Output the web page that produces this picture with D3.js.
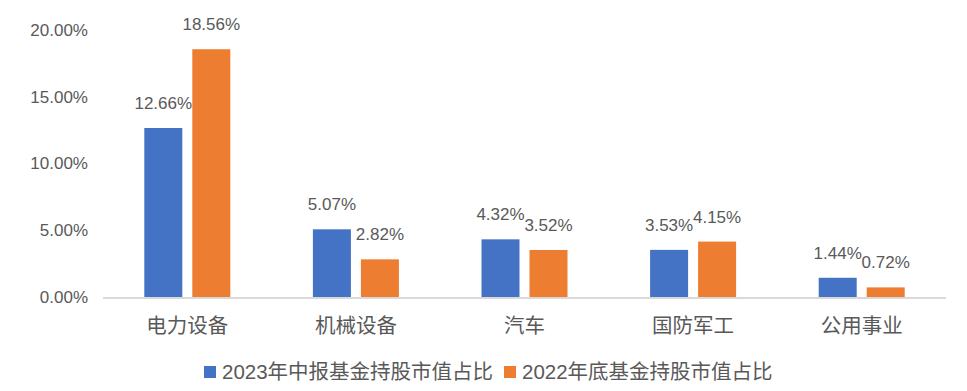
<!DOCTYPE html>
<html lang="zh">
<head>
<meta charset="UTF-8">
<title>基金持股市值占比</title>
<script src="https://d3js.org/d3.v7.min.js"></script>
<style>
  body { margin: 0; background: #fff; }
  text { font-family: "Liberation Sans", "Noto Sans CJK SC", sans-serif; fill: #595959; }
</style>
</head>
<body>
<svg id="chart" width="967" height="391"></svg>
<script>
// data
var categories = ["电力设备", "机械设备", "汽车", "国防军工", "公用事业"];
var seriesNames = ["2023年中报基金持股市值占比", "2022年底基金持股市值占比"];
var mid2023 = [12.66, 5.07, 4.32, 3.53, 1.44];
var end2022 = [18.56, 2.82, 3.52, 4.15, 0.72];
var yTicks = [0, 5, 10, 15, 20];
var colors = ["#4472C4", "#ED7D31"];

var svg = d3.select("#chart");
var plotLeft = 103, plotRight = 946, plotTop = 30, base = 297;

var x = d3.scaleBand().domain(categories).range([plotLeft, plotRight]);
var y = d3.scaleLinear().domain([0, 20]).range([base, plotTop]);
var barW = 38, gap = 10;

// y axis labels
svg.append("g").selectAll("text")
  .data(yTicks).enter().append("text")
    .attr("x", 88)
    .attr("y", function(d) { return y(d); })
    .attr("dy", "0.35em")
    .attr("text-anchor", "end")
    .style("font-size", "17px")
    .text(function(d) { return d.toFixed(2) + "%"; });

// bars
var series = [mid2023, end2022];
series.forEach(function(vals, si) {
  var offset = si === 0 ? -(gap / 2 + barW) : gap / 2;
  var g = svg.append("g");
  g.selectAll("rect")
    .data(vals).enter().append("rect")
      .attr("x", function(d, i) { return x(categories[i]) + x.bandwidth() / 2 + offset; })
      .attr("y", function(d) { return y(d); })
      .attr("width", barW)
      .attr("height", function(d) { return base - y(d); })
      .attr("fill", colors[si]);
  g.selectAll("text")
    .data(vals).enter().append("text")
      .attr("x", function(d, i) { return x(categories[i]) + x.bandwidth() / 2 + offset + barW / 2; })
      .attr("y", function(d) { return y(d) - 19; })
      .attr("text-anchor", "middle")
      .style("font-size", "17px")
      .text(function(d) { return d.toFixed(2) + "%"; });
});

// baseline
svg.append("line")
  .attr("x1", plotLeft).attr("x2", plotRight)
  .attr("y1", base + 1).attr("y2", base + 1)
  .attr("stroke", "#d9d9d9").attr("stroke-width", 2);

// category labels
svg.append("g").selectAll("text")
  .data(categories).enter().append("text")
    .attr("x", function(d) { return x(d) + x.bandwidth() / 2; })
    .attr("y", 333)
    .attr("text-anchor", "middle")
    .style("font-size", "20.5px")
    .text(function(d) { return d; });

// legend
var legendX = [204, 504];
var legend = svg.append("g");
seriesNames.forEach(function(name, i) {
  legend.append("rect")
    .attr("x", legendX[i]).attr("y", 366)
    .attr("width", 12).attr("height", 12)
    .attr("fill", colors[i]);
  legend.append("text")
    .attr("x", legendX[i] + 18).attr("y", 379)
    .style("font-size", "20.5px")
    .text(name);
});
</script>
</body>
</html>
